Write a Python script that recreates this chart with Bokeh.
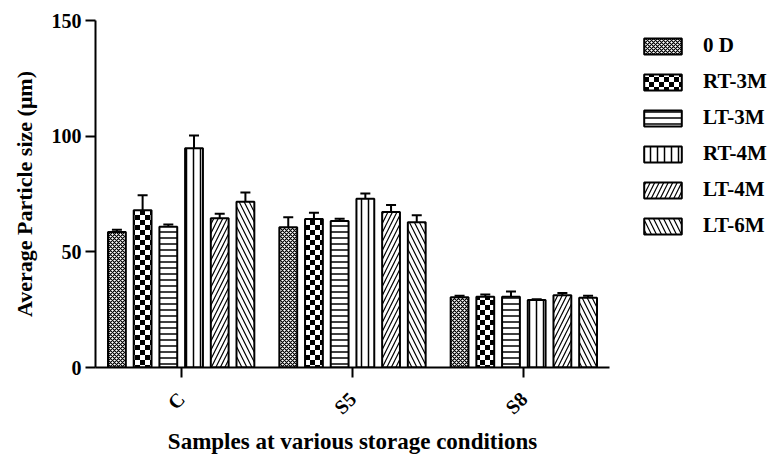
import math, zlib, struct, base64
from bokeh.plotting import figure
from bokeh.core.properties import value
from bokeh.models import (ColumnDataSource, Legend, LegendItem, Whisker, TeeHead,
                          ImageURLTexture, FixedTicker)
from bokeh.transform import dodge
from bokeh.embed import file_html
from bokeh.resources import INLINE

categories = ["C", "S5", "S8"]
series_names = ["0 D", "RT-3M", "LT-3M", "RT-4M", "LT-4M", "LT-6M"]

val_0d = [58.6, 60.6, 30.4]
val_rt3 = [68.0, 64.2, 30.6]
val_lt3 = [60.8, 63.3, 30.6]
val_rt4 = [94.8, 73.0, 29.2]
val_lt4 = [64.5, 67.2, 31.2]
val_lt6 = [71.6, 62.8, 30.2]

err_0d = [1.0, 4.3, 0.6]
err_rt3 = [6.5, 2.7, 1.0]
err_lt3 = [1.0, 1.0, 2.2]
err_rt4 = [5.5, 2.2, 0.3]
err_lt4 = [2.0, 3.0, 1.0]
err_lt6 = [4.0, 3.0, 0.8]

y_ticks = [0, 50, 100, 150]

values = [val_0d, val_rt3, val_lt3, val_rt4, val_lt4, val_lt6]
errors = [err_0d, err_rt3, err_lt3, err_rt4, err_lt4, err_lt6]

FONT = "Liberation Serif"


def checker_png(cell=5):
    n = cell * 2
    rows = []
    for y in range(n):
        row = bytearray(b"\x00")
        for x in range(n):
            if ((x // cell) + (y // cell)) % 2 == 0:
                row += bytes((0, 0, 0, 255))
            else:
                row += bytes((255, 255, 255, 255))
        rows.append(bytes(row))
    raw = b"".join(rows)

    def chunk(t, d):
        return (struct.pack(">I", len(d)) + t + d +
                struct.pack(">I", zlib.crc32(t + d) & 0xffffffff))
    png = (b"\x89PNG\r\n\x1a\n" +
           chunk(b"IHDR", struct.pack(">IIBBBBB", n, n, 8, 6, 0, 0, 0)) +
           chunk(b"IDAT", zlib.compress(raw)) + chunk(b"IEND", b""))
    return "data:image/png;base64," + base64.b64encode(png).decode()


p = figure(x_range=categories, y_range=(0, 150),
           frame_width=514, frame_height=347,
           min_border_left=95, min_border_top=20, min_border_bottom=91,
           min_border_right=168, output_backend="svg", toolbar_location=None)
p.outline_line_color = None
p.xgrid.visible = False
p.ygrid.visible = False
p.x_range.range_padding = 0

checker = ImageURLTexture(url=checker_png(5), repetition="repeat")

styles = [
    dict(hatch_pattern="diagonal_cross", hatch_scale=4, hatch_weight=1.2),
    dict(hatch_pattern=value("checker"), hatch_scale=10, hatch_weight=1,
         hatch_extra={"checker": checker}),
    dict(hatch_pattern="horizontal_line", hatch_scale=6, hatch_weight=1.5),
    dict(hatch_pattern="vertical_line", hatch_scale=7, hatch_weight=1.5),
    dict(hatch_pattern="right_diagonal_line", hatch_scale=9, hatch_weight=1.2),
    dict(hatch_pattern="left_diagonal_line", hatch_scale=10, hatch_weight=1.2),
]

offsets = [-0.375, -0.225, -0.075, 0.075, 0.225, 0.375]

data = dict(cat=categories)
for i, (v, e) in enumerate(zip(values, errors)):
    data[f"v{i}"] = v
    data[f"u{i}"] = [a + b for a, b in zip(v, e)]
src = ColumnDataSource(data)

items = []
for i, name in enumerate(series_names):
    wk = Whisker(base=dodge("cat", offsets[i], range=p.x_range),
                 lower=f"v{i}", upper=f"u{i}", source=src, dimension="height",
                 line_width=2, line_color="black",
                 upper_head=TeeHead(size=10, line_width=2, line_color="black"),
                 lower_head=None)
    p.add_layout(wk)
    r = p.vbar(x=dodge("cat", offsets[i], range=p.x_range), top=f"v{i}",
               width=0.104, source=src, fill_color="white", line_color="black",
               line_width=2, hatch_color="black", **styles[i])
    items.append(LegendItem(label=name, renderers=[r]))

legend = Legend(items=items, location=(30, 129), glyph_width=47, glyph_height=20,
                label_height=16, spacing=11, label_standoff=17, padding=0, margin=0,
                border_line_alpha=0, background_fill_alpha=0,
                label_text_font=FONT, label_text_font_style="bold",
                label_text_font_size="21px", label_text_color="black")
p.add_layout(legend, "right")

for ax in (p.xaxis, p.yaxis):
    ax.axis_line_width = 2
    ax.axis_line_color = "black"
    ax.major_tick_line_width = 2
    ax.major_tick_line_color = "black"
    ax.major_tick_out = 10
    ax.major_tick_in = 0
    ax.minor_tick_out = 0
    ax.minor_tick_in = 0
    ax.major_label_text_font = FONT
    ax.major_label_text_font_style = "bold"
    ax.major_label_text_font_size = "20px"
    ax.major_label_text_color = "black"
    ax.axis_label_text_font = FONT
    ax.axis_label_text_font_style = "bold"
    ax.axis_label_text_color = "black"

p.yaxis.ticker = FixedTicker(ticks=y_ticks)
p.yaxis.major_label_standoff = 4
p.yaxis.axis_label = "Average Particle size (μm)"
p.yaxis.axis_label_text_font_size = "22px"
p.yaxis.axis_label_standoff = 12

p.xaxis.major_label_orientation = math.pi / 4
p.xaxis.major_label_standoff = 18
p.xaxis.axis_label = "Samples at various storage conditions"
p.xaxis.axis_label_text_font_size = "23px"
p.xaxis.axis_label_standoff = 0

open("out.html", "w").write(file_html(p, INLINE))
